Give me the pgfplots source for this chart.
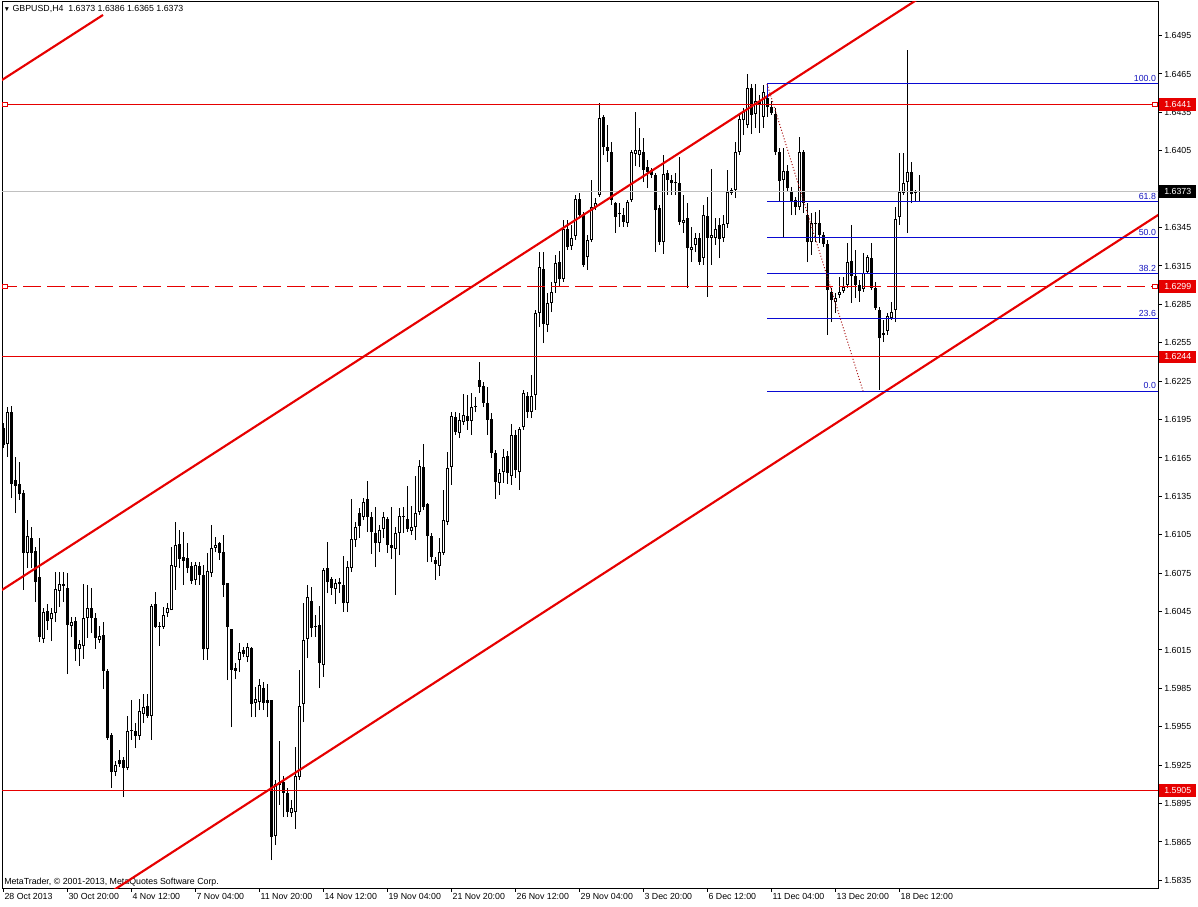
\documentclass[border=0pt]{standalone}
\usepackage{fontspec}
\setmainfont{Liberation Sans}
\usepackage{pgfplots}
\pgfplotsset{compat=1.18}
\usepackage{pgfplotstable}
\definecolor{chred}{RGB}{230,0,0}
\definecolor{fibblue}{RGB}{10,10,210}
\definecolor{fibtext}{RGB}{20,20,190}
\definecolor{dotred}{RGB}{170,20,20}
\definecolor{bidgray}{RGB}{192,192,192}

\pgfplotstableread{
i o h l c
0 1.61884 1.61923 1.61728 1.61751
1 1.61759 1.62048 1.61658 1.62009
2 1.62009 1.62056 1.61337 1.61447
3 1.61478 1.61658 1.61220 1.61431
4 1.61447 1.61619 1.61322 1.61369
5 1.61376 1.61400 1.60619 1.60908
6 1.60908 1.61165 1.60790 1.61040
7 1.61025 1.61111 1.60790 1.60908
8 1.60923 1.60955 1.60525 1.60681
9 1.60720 1.61025 1.60212 1.60251
10 1.60236 1.60478 1.60205 1.60447
11 1.60455 1.60509 1.60306 1.60376
12 1.60392 1.60478 1.60220 1.60439
13 1.60439 1.60759 1.60369 1.60626
14 1.60611 1.60759 1.60486 1.60665
15 1.60665 1.60759 1.60525 1.60650
16 1.60634 1.60751 1.59962 1.60345
17 1.60337 1.60408 1.60251 1.60369
18 1.60376 1.60408 1.60064 1.60158
19 1.60158 1.60228 1.60025 1.60197
20 1.60181 1.60665 1.60080 1.60400
21 1.60400 1.60658 1.60244 1.60478
22 1.60478 1.60634 1.60283 1.60400
23 1.60400 1.60439 1.60158 1.60244
24 1.60228 1.60337 1.60205 1.60259
25 1.60267 1.60369 1.59845 1.59986
26 1.59986 1.60001 1.59447 1.59462
27 1.59486 1.59501 1.59072 1.59197
28 1.59197 1.59283 1.59165 1.59251
29 1.59290 1.59369 1.59236 1.59259
30 1.59290 1.59314 1.59001 1.59228
31 1.59228 1.59634 1.59212 1.59517
32 1.59517 1.59759 1.59447 1.59525
33 1.59517 1.59580 1.59384 1.59478
34 1.59478 1.59767 1.59447 1.59673
35 1.59650 1.59806 1.59580 1.59705
36 1.59712 1.59806 1.59619 1.59634
37 1.59634 1.60509 1.59447 1.60494
38 1.60509 1.60603 1.60322 1.60330
39 1.60330 1.60369 1.60181 1.60337
40 1.60330 1.60486 1.60314 1.60423
41 1.60439 1.60517 1.60408 1.60478
42 1.60462 1.60955 1.60462 1.60814
43 1.60798 1.61150 1.60619 1.60970
44 1.60978 1.61087 1.60790 1.60861
45 1.60876 1.61072 1.60658 1.60845
46 1.60869 1.60986 1.60751 1.60790
47 1.60806 1.60837 1.60665 1.60689
48 1.60697 1.60837 1.60658 1.60814
49 1.60806 1.60837 1.60658 1.60736
50 1.60736 1.60814 1.60072 1.60158
51 1.60158 1.60908 1.60072 1.60767
52 1.60751 1.61126 1.60720 1.60947
53 1.60947 1.61033 1.60915 1.60970
54 1.60986 1.60994 1.60853 1.60908
55 1.60915 1.61048 1.60564 1.60658
56 1.60673 1.60673 1.59915 1.60330
57 1.60314 1.60314 1.59548 1.59994
58 1.60009 1.60048 1.59923 1.59986
59 1.60072 1.60205 1.59978 1.60134
60 1.60150 1.60173 1.60095 1.60119
61 1.60095 1.60205 1.60056 1.60173
62 1.60165 1.60173 1.59626 1.59728
63 1.59736 1.59861 1.59626 1.59767
64 1.59744 1.59923 1.59681 1.59876
65 1.59853 1.59900 1.59681 1.59736
66 1.59759 1.59884 1.59626 1.59736
67 1.59759 1.59759 1.58509 1.58689
68 1.58697 1.59134 1.58626 1.59103
69 1.59119 1.59439 1.58939 1.59095
70 1.59119 1.59165 1.58845 1.59033
71 1.59033 1.59072 1.58845 1.58884
72 1.58876 1.58978 1.58845 1.58915
73 1.58884 1.59392 1.58751 1.59165
74 1.59158 1.59994 1.59134 1.59712
75 1.59728 1.60517 1.59587 1.60228
76 1.60236 1.60658 1.60087 1.60564
77 1.60533 1.60642 1.60251 1.60322
78 1.60337 1.60423 1.60251 1.60330
79 1.60345 1.60494 1.59853 1.60048
80 1.60033 1.60790 1.59939 1.60775
81 1.60790 1.60994 1.60595 1.60681
82 1.60705 1.60720 1.60580 1.60634
83 1.60626 1.60705 1.60509 1.60673
84 1.60681 1.60712 1.60595 1.60665
85 1.60658 1.60884 1.60447 1.60517
86 1.60517 1.60845 1.60447 1.60798
87 1.60790 1.61330 1.60759 1.61017
88 1.61009 1.61150 1.60955 1.61111
89 1.61220 1.61259 1.61025 1.61119
90 1.61189 1.61337 1.61165 1.61306
91 1.61330 1.61470 1.61072 1.61189
92 1.61189 1.61228 1.60900 1.61072
93 1.61064 1.61267 1.60798 1.60986
94 1.60986 1.61126 1.60915 1.61087
95 1.61095 1.61228 1.61025 1.61189
96 1.61173 1.61189 1.60908 1.60970
97 1.60970 1.61267 1.60861 1.60947
98 1.60939 1.61111 1.60580 1.61064
99 1.61064 1.61259 1.60892 1.61197
100 1.61189 1.61267 1.61064 1.61197
101 1.61173 1.61431 1.61072 1.61095
102 1.61080 1.61275 1.61048 1.61111
103 1.61111 1.61509 1.61009 1.61220
104 1.61228 1.61634 1.61205 1.61587
105 1.61580 1.61759 1.61244 1.61267
106 1.61290 1.61298 1.60837 1.61040
107 1.61040 1.61064 1.60837 1.60876
108 1.60853 1.60876 1.60697 1.60822
109 1.60806 1.61025 1.60728 1.60915
110 1.60908 1.61400 1.60892 1.61165
111 1.61150 1.61697 1.61126 1.61572
112 1.61580 1.62009 1.61439 1.61978
113 1.61970 1.62009 1.61830 1.61853
114 1.61845 1.62001 1.61806 1.61947
115 1.61931 1.62150 1.61908 1.61986
116 1.61978 1.62142 1.61869 1.61939
117 1.61939 1.62158 1.61830 1.62048
118 1.62048 1.62126 1.62009 1.62056
119 1.62259 1.62400 1.62158 1.62205
120 1.62212 1.62244 1.62048 1.62080
121 1.62080 1.62205 1.61830 1.61947
122 1.61955 1.62001 1.61650 1.61689
123 1.61689 1.61712 1.61330 1.61462
124 1.61455 1.61564 1.61361 1.61533
125 1.61540 1.61720 1.61455 1.61658
126 1.61665 1.61705 1.61447 1.61533
127 1.61509 1.61915 1.61439 1.61830
128 1.61830 1.61869 1.61494 1.61556
129 1.61540 1.61892 1.61400 1.61876
130 1.61892 1.62181 1.61869 1.62158
131 1.62134 1.62165 1.61962 1.62009
132 1.62009 1.62298 1.61962 1.62134
133 1.62142 1.62806 1.62025 1.62783
134 1.62783 1.63259 1.62673 1.63142
135 1.63126 1.63259 1.62548 1.62697
136 1.62689 1.62939 1.62634 1.62861
137 1.62861 1.63025 1.62790 1.62947
138 1.63017 1.63236 1.62939 1.63173
139 1.63181 1.63267 1.62986 1.63048
140 1.63048 1.63509 1.63025 1.63439
141 1.63439 1.63509 1.63275 1.63298
142 1.63306 1.63470 1.63275 1.63369
143 1.63384 1.63705 1.63353 1.63673
144 1.63673 1.63720 1.63525 1.63548
145 1.63548 1.63572 1.63142 1.63158
146 1.63220 1.63392 1.63119 1.63353
147 1.63353 1.63822 1.63337 1.63611
148 1.63611 1.63681 1.63587 1.63642
149 1.63705 1.64423 1.63689 1.64306
150 1.64314 1.64330 1.64017 1.64080
151 1.64080 1.64251 1.63962 1.64048
152 1.64040 1.64119 1.63626 1.63665
153 1.63642 1.63650 1.63408 1.63533
154 1.63556 1.63642 1.63455 1.63564
155 1.63548 1.63603 1.63455 1.63494
156 1.63486 1.63665 1.63455 1.63650
157 1.63665 1.64056 1.63650 1.64040
158 1.64025 1.64353 1.63931 1.64056
159 1.64017 1.64228 1.63923 1.64056
160 1.64040 1.64150 1.63806 1.63900
161 1.63923 1.63978 1.63759 1.63884
162 1.63900 1.63915 1.63837 1.63861
163 1.63861 1.63876 1.63259 1.63587
164 1.63603 1.63626 1.63314 1.63337
165 1.63337 1.64017 1.63244 1.63869
166 1.63876 1.63900 1.63705 1.63822
167 1.63822 1.63861 1.63705 1.63798
168 1.63806 1.63876 1.63705 1.63798
169 1.63798 1.64001 1.63470 1.63494
170 1.63486 1.63705 1.63408 1.63509
171 1.63525 1.63642 1.62978 1.63290
172 1.63275 1.63455 1.63181 1.63298
173 1.63314 1.63408 1.63259 1.63369
174 1.63369 1.63408 1.63158 1.63181
175 1.63212 1.63626 1.63158 1.63548
176 1.63540 1.63689 1.62908 1.63369
177 1.63369 1.63908 1.63158 1.63392
178 1.63369 1.63525 1.63314 1.63439
179 1.63470 1.63525 1.63212 1.63361
180 1.63369 1.63548 1.63337 1.63478
181 1.63478 1.63900 1.63447 1.63728
182 1.63720 1.63759 1.63705 1.63744
183 1.63744 1.64119 1.63681 1.64040
184 1.64040 1.64330 1.64017 1.64298
185 1.64290 1.64384 1.64173 1.64361
186 1.64251 1.64650 1.64228 1.64540
187 1.64540 1.64572 1.64181 1.64330
188 1.64337 1.64572 1.64228 1.64439
189 1.64439 1.64486 1.64189 1.64415
190 1.64314 1.64564 1.64228 1.64509
191 1.64462 1.64501 1.64314 1.64392
192 1.64392 1.64439 1.64330 1.64345
193 1.64337 1.64384 1.64017 1.64040
194 1.64040 1.64072 1.63650 1.63814
195 1.63822 1.64072 1.63369 1.63892
196 1.63892 1.63939 1.63728 1.63759
197 1.63736 1.63767 1.63548 1.63650
198 1.63665 1.63689 1.63548 1.63611
199 1.63611 1.64158 1.63587 1.64040
200 1.64040 1.64056 1.63564 1.63642
201 1.63548 1.63642 1.63181 1.63337
202 1.63337 1.63564 1.63236 1.63486
203 1.63478 1.63572 1.63337 1.63486
204 1.63486 1.63587 1.63330 1.63392
205 1.63392 1.63415 1.63298 1.63322
206 1.63322 1.63353 1.62611 1.62962
207 1.62947 1.62978 1.62712 1.62884
208 1.62869 1.62939 1.62783 1.62900
209 1.62923 1.63064 1.62900 1.62947
210 1.62955 1.63064 1.62939 1.62986
211 1.63001 1.63330 1.62978 1.63181
212 1.63189 1.63470 1.62861 1.63072
213 1.63072 1.63275 1.62900 1.63001
214 1.63001 1.63040 1.62869 1.62955
215 1.62970 1.63251 1.62947 1.63095
216 1.63103 1.63236 1.63095 1.63220
217 1.63212 1.63330 1.62962 1.62978
218 1.62978 1.63025 1.62806 1.62822
219 1.62806 1.62830 1.62181 1.62587
220 1.62611 1.62728 1.62556 1.62626
221 1.62642 1.62783 1.62611 1.62759
222 1.62744 1.62869 1.62728 1.62790
223 1.62806 1.63611 1.62712 1.63517
224 1.63533 1.64033 1.63470 1.63728
225 1.63720 1.64033 1.63705 1.63798
226 1.63806 1.64837 1.63408 1.63884
227 1.63884 1.63962 1.63642 1.63712
228 1.63720 1.63744 1.63650 1.63728
229 1.63730 1.63860 1.63650 1.63730
}\candles

\begin{document}
\begin{tikzpicture}[font=\fontsize{6.6}{8}\selectfont]
\path[use as bounding box] (0,0) rectangle (898.5pt,679.5pt);
\begin{axis}[
  at={(1.5pt,13.5pt)}, anchor=south west,
  scale only axis, width=867pt, height=664.5pt,
  xmin=-0.25, xmax=288.75, ymin=1.582905, ymax=1.652124,
  clip mode=individual,
  axis line style={black, line width=0.75pt},
  xtick={0,16,...,224},
  xticklabels={28 Oct 2013,30 Oct 20:00,4 Nov 12:00,7 Nov 04:00,11 Nov 20:00,14 Nov 12:00,19 Nov 04:00,21 Nov 20:00,26 Nov 12:00,29 Nov 04:00,3 Dec 20:00,6 Dec 12:00,11 Dec 04:00,13 Dec 20:00,18 Dec 12:00},
  ytick={1.5835,1.5865,1.5895,1.5925,1.5955,1.5985,1.6015,1.6045,1.6075,1.6105,1.6135,1.6165,1.6195,1.6225,1.6255,1.6285,1.6315,1.6345,1.6375,1.6405,1.6435,1.6465,1.6495},
  yticklabels={1.5835,1.5865,1.5895,1.5925,1.5955,1.5985,1.6015,1.6045,1.6075,1.6105,1.6135,1.6165,1.6195,1.6225,1.6255,1.6285,1.6315,1.6345,{},1.6405,1.6435,1.6465,1.6495},
  scaled y ticks=false,
  xtick pos=left, ytick pos=right, yticklabel pos=right,
  tick align=outside, major tick length=3pt,
  tick style={black, line width=0.75pt},
  xticklabel style={anchor=north west, inner sep=1pt},
  yticklabel style={anchor=west, inner sep=1.5pt},
]
% credit text sits under the drawn objects
\node[anchor=west, inner sep=0pt] at (rel axis cs:0,0) [xshift=1.5pt, yshift=4.3pt] {MetaTrader, © 2001-2013, MetaQuotes Software Corp.};
% candles: wicks
\addplot[draw=none, mark=none, error bars/.cd, y dir=plus, y explicit, error mark=none,
  error bar style={draw=black, line width=0.75pt}]
  table[x=i, y=l, y error expr=\thisrow{h}-\thisrow{l}] {\candles};
% bodies (black, 3px)
\addplot[draw=none, mark=none, error bars/.cd, y dir=plus, y explicit, error mark=none,
  error bar style={draw=black, line width=2.25pt}]
  table[x=i, y expr={min(\thisrow{o},\thisrow{c})}, y error expr={max(abs(\thisrow{c}-\thisrow{o}),0.00008)}] {\candles};
% hollow inside of rising candles
\addplot[draw=none, mark=none, error bars/.cd, y dir=plus, y explicit, error mark=none,
  error bar style={draw=white, line width=0.75pt}]
  table[x=i, y expr={\thisrow{o}+0.000078}, y error expr={max(\thisrow{c}-\thisrow{o}-0.000156,0)}] {\candles};

% bid line
\addplot[bidgray, line width=0.75pt] coordinates {(-1,1.6373)(290,1.6373)};
% horizontal levels
\addplot[chred, line width=0.75pt] coordinates {(-1,1.6441)(290,1.6441)};
\addplot[chred, line width=0.75pt, dash pattern=on 13.5pt off 4.5pt] coordinates {(-1,1.6299)(290,1.6299)};
\addplot[chred, line width=0.75pt] coordinates {(-1,1.6244)(290,1.6244)};
\addplot[chred, line width=0.75pt] coordinates {(-1,1.5905)(290,1.5905)};
\addplot[only marks, mark=square*, mark size=1.6pt, mark options={fill=white, draw=chred, line width=0.75pt}]
  coordinates {(0.5,1.6441)(288,1.6441)(0.5,1.6299)(288,1.6299)};
% channel
\addplot[chred, line width=1.6pt] coordinates {(-1,1.60604)(231,1.65281)};
\addplot[chred, line width=1.6pt] coordinates {(20,1.58119)(290,1.63573)};
\addplot[chred, line width=1.6pt] coordinates {(-1,1.64588)(25,1.65111)};
% fibonacci
\addplot[draw=fibblue, line width=0.75pt] coordinates {(191,1.64462)(191,1.64572)(290,1.64572)};
\addplot[draw=fibblue, line width=0.75pt] coordinates {(191,1.63656)(290,1.63656)};
\addplot[draw=fibblue, line width=0.75pt] coordinates {(191,1.63372)(290,1.63372)};
\addplot[draw=fibblue, line width=0.75pt] coordinates {(191,1.63089)(290,1.63089)};
\addplot[draw=fibblue, line width=0.75pt] coordinates {(191,1.62739)(290,1.62739)};
\addplot[draw=fibblue, line width=0.75pt] coordinates {(191,1.62173)(290,1.62173)};
\addplot[dotred, line width=0.75pt, dash pattern=on 0.75pt off 1.5pt] coordinates {(191,1.64572)(215,1.62173)};
\foreach \lv/\tx in {1.64572/100.0,1.63656/61.8,1.63372/50.0,1.63089/38.2,1.62739/23.6,1.62173/0.0}{
  \edef\tmp{\noexpand\node[anchor=base east, text=fibtext, inner sep=0pt, yshift=1.6pt] at (axis cs:288.3,\lv) {\tx};}\tmp
}
\coordinate (b1) at (axis cs:288.75,1.6441);
\coordinate (b2) at (axis cs:288.75,1.6373);
\coordinate (b3) at (axis cs:288.75,1.6299);
\coordinate (b4) at (axis cs:288.75,1.6244);
\coordinate (b5) at (axis cs:288.75,1.5905);
\end{axis}
\foreach \n/\t/\col in {b1/1.6441/chred,b2/1.6373/black,b3/1.6299/chred,b4/1.6244/chred,b5/1.5905/chred}{
  \node[fill=\col, text=white, anchor=west, minimum width=27.75pt, minimum height=9.5pt, inner sep=0pt] at ([xshift=0.75pt]\n) {\t};
}
\node[anchor=west, inner sep=0pt] at (2.5pt,673pt) {{\fontsize{5}{6}\selectfont ▼} GBPUSD,H4\ \ 1.6373 1.6386 1.6365 1.6373};
\end{tikzpicture}
\end{document}
